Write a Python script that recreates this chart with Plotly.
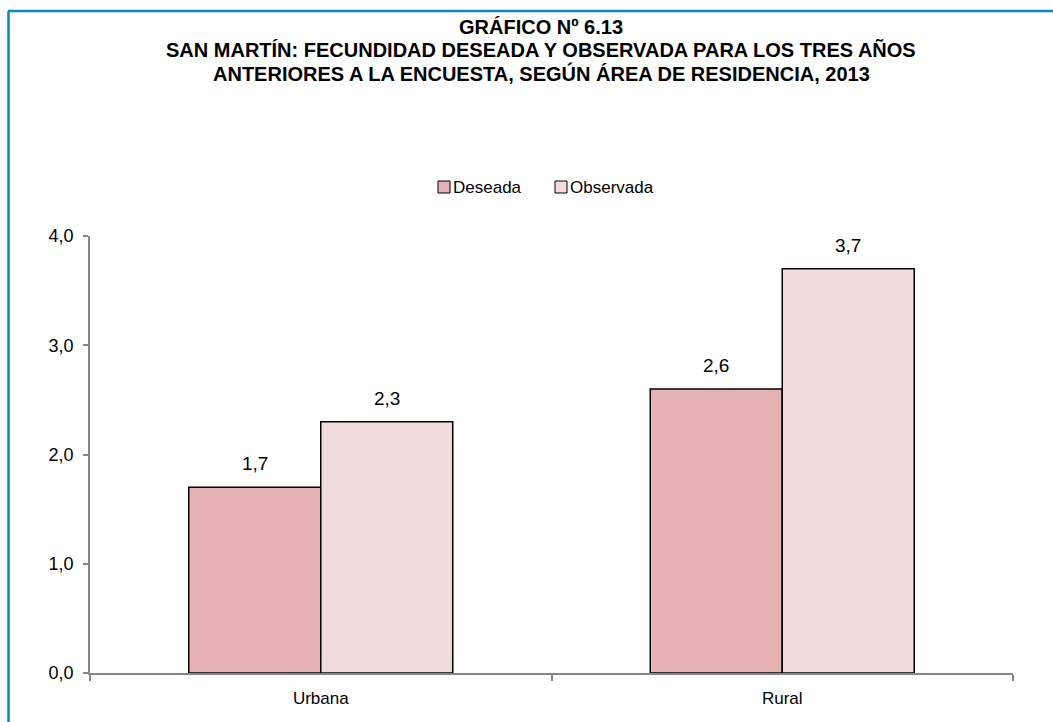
import plotly.graph_objects as go

# Fecundidad deseada y observada por área de residencia (San Martín, 2013)
areas = ["Urbana", "Rural"]
deseada = [1.7, 2.6]
observada = [2.3, 3.7]
series_names = ["Deseada", "Observada"]
y_ticks = [0, 1, 2, 3, 4]

title_lines = [
    "GRÁFICO Nº 6.13",
    "SAN MARTÍN: FECUNDIDAD DESEADA Y OBSERVADA PARA LOS TRES AÑOS",
    "ANTERIORES A LA ENCUESTA, SEGÚN ÁREA DE RESIDENCIA, 2013",
]

W, H = 1053, 722
ML, MR, MT, MB = 90, 40, 236, 49
PW, PH = W - ML - MR, H - MT - MB

FONT = "Liberation Sans Narrow, Arial Narrow, Liberation Sans, Arial, sans-serif"
C_DES = "#E5B3B3"
C_OBS = "#F2DCDB"
FRAME = "#0B86C0"
AXIS = "#868686"


def px_x(px):
    return (px - ML) / PW


def px_y(py):
    return (H - MB - py) / PH


fig = go.Figure()
for name, vals, col in [(series_names[0], deseada, C_DES), (series_names[1], observada, C_OBS)]:
    fig.add_trace(go.Bar(
        x=areas, y=vals, name=name,
        marker=dict(color=col, line=dict(color="#000000", width=1.5)),
        showlegend=False,
    ))

# value labels above each bar
annotations = []
bar_px = PW / len(areas) * (1 - 0.428) / 2
for vals, sign in [(deseada, -1), (observada, 1)]:
    for a, v in zip(areas, vals):
        annotations.append(dict(
            x=a, y=v, xref="x", yref="y", text=f"{v:.1f}".replace(".", ","),
            showarrow=False, yanchor="bottom", xshift=sign * bar_px / 2, yshift=11,
            font=dict(family=FONT, size=19, color="#000000"),
        ))

# title
for i, line in enumerate(title_lines):
    annotations.append(dict(
        x=px_x(541), y=px_y(27 + i * 23), xref="paper", yref="paper",
        text=f"<b>{line}</b>", showarrow=False, xanchor="center", yanchor="middle",
        font=dict(family=FONT, size=20, color="#000000"),
    ))

# legend
shapes = []
legend_items = [(series_names[0], C_DES, 438), (series_names[1], C_OBS, 555)]
for name, col, x0 in legend_items:
    shapes.append(dict(
        type="rect", xref="paper", yref="paper",
        x0=px_x(x0), x1=px_x(x0 + 12), y0=px_y(193), y1=px_y(181),
        fillcolor=col, line=dict(color="#000000", width=1),
    ))
    annotations.append(dict(
        x=px_x(x0 + 13), y=px_y(187), xref="paper", yref="paper",
        text=name, showarrow=False, xanchor="left", yanchor="middle",
        font=dict(family=FONT, size=17, color="#000000"),
    ))

# frame lines (top and left)
shapes.append(dict(type="line", xref="paper", yref="paper",
                   x0=px_x(8), x1=px_x(W + 5), y0=px_y(11), y1=px_y(11),
                   line=dict(color=FRAME, width=2.5)))
shapes.append(dict(type="line", xref="paper", yref="paper",
                   x0=px_x(8.5), x1=px_x(8.5), y0=px_y(11), y1=px_y(H + 5),
                   line=dict(color=FRAME, width=2.5)))

fig.update_layout(
    width=W, height=H,
    margin=dict(l=ML, r=MR, t=MT, b=MB, pad=0),
    paper_bgcolor="#FFFFFF", plot_bgcolor="#FFFFFF",
    barmode="group", bargap=0.428, bargroupgap=0,
    separators=",.",
    font=dict(family=FONT, size=17, color="#000000"),
    annotations=annotations, shapes=shapes,
    showlegend=False,
)
fig.update_xaxes(
    showline=True, linecolor=AXIS, linewidth=1.5,
    ticks="outside", tickson="boundaries", ticklen=6, tickcolor=AXIS, tickwidth=1.5,
    ticklabelstandoff=9,
    showgrid=False, zeroline=False,
    tickfont=dict(family=FONT, size=17, color="#000000"),
)
fig.update_yaxes(
    range=[0, 4], tickvals=y_ticks, tickformat=".1f",
    showline=True, linecolor=AXIS, linewidth=1.5,
    ticks="outside", ticklen=5, tickcolor=AXIS, tickwidth=1.5,
    ticklabelstandoff=6,
    showgrid=False, zeroline=False,
    tickfont=dict(family=FONT, size=18, color="#000000"),
)

fig.write_html("out.html")
